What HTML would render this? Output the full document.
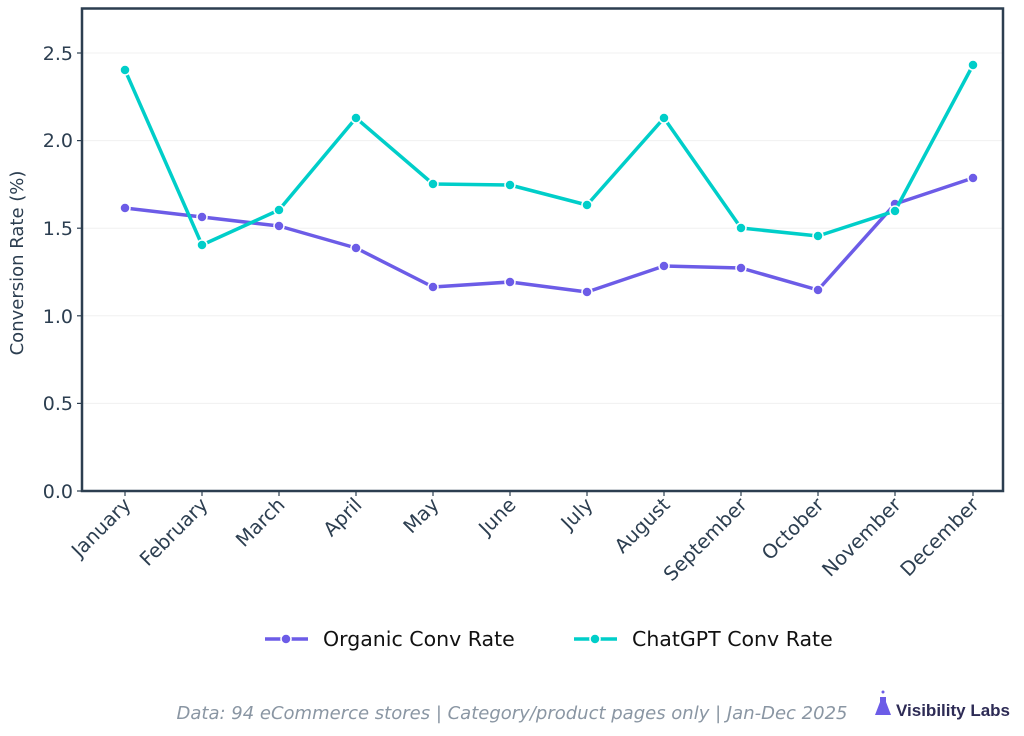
<!DOCTYPE html>
<html><head><meta charset="utf-8"><style>
body{margin:0;background:#fff;}
svg text{font-family:"DejaVu Sans","Liberation Sans",sans-serif;}
</style></head><body>
<svg width="1024" height="731" viewBox="0 0 1024 731" xmlns="http://www.w3.org/2000/svg">
<rect width="1024" height="731" fill="#fff"/>
<g stroke="#f0f0f0" stroke-width="1">
<line x1="82" x2="1003" y1="53" y2="53"/><line x1="82" x2="1003" y1="140.6" y2="140.6"/>
<line x1="82" x2="1003" y1="228.2" y2="228.2"/><line x1="82" x2="1003" y1="315.8" y2="315.8"/>
<line x1="82" x2="1003" y1="403.4" y2="403.4"/>
</g>
<g stroke="#2c3e50" stroke-width="1.2">
<line x1="77" x2="82" y1="53" y2="53"/><line x1="77" x2="82" y1="140.6" y2="140.6"/>
<line x1="77" x2="82" y1="228.2" y2="228.2"/><line x1="77" x2="82" y1="315.8" y2="315.8"/>
<line x1="77" x2="82" y1="403.4" y2="403.4"/><line x1="77" x2="82" y1="491" y2="491"/>
<line x1="125" x2="125" y1="491" y2="496"/><line x1="202" x2="202" y1="491" y2="496"/>
<line x1="279" x2="279" y1="491" y2="496"/><line x1="356" x2="356" y1="491" y2="496"/>
<line x1="433" x2="433" y1="491" y2="496"/><line x1="510" x2="510" y1="491" y2="496"/>
<line x1="587" x2="587" y1="491" y2="496"/><line x1="664" x2="664" y1="491" y2="496"/>
<line x1="741" x2="741" y1="491" y2="496"/><line x1="818" x2="818" y1="491" y2="496"/>
<line x1="895" x2="895" y1="491" y2="496"/><line x1="973" x2="973" y1="491" y2="496"/>
</g>
<g fill="#2c3e50" font-size="19" text-anchor="end">
<text x="73" y="60">2.5</text><text x="73" y="147">2.0</text><text x="73" y="235">1.5</text>
<text x="73" y="323">1.0</text><text x="73" y="410">0.5</text><text x="73" y="498">0.0</text>
</g>
<text transform="translate(23,263) rotate(-90)" fill="#2c3e50" font-size="18" text-anchor="middle">Conversion Rate (%)</text>
<g fill="#2c3e50" font-size="19.5" text-anchor="end">
<text transform="translate(132,506) rotate(-45)">January</text>
<text transform="translate(209,506) rotate(-45)">February</text>
<text transform="translate(286,506) rotate(-45)">March</text>
<text transform="translate(363,506) rotate(-45)">April</text>
<text transform="translate(440,506) rotate(-45)">May</text>
<text transform="translate(517,506) rotate(-45)">June</text>
<text transform="translate(594,506) rotate(-45)">July</text>
<text transform="translate(671,506) rotate(-45)">August</text>
<text transform="translate(748,506) rotate(-45)">September</text>
<text transform="translate(825,506) rotate(-45)">October</text>
<text transform="translate(902,506) rotate(-45)">November</text>
<text transform="translate(980,506) rotate(-45)">December</text>
</g>
<polyline fill="none" stroke="#6c5ce7" stroke-width="3.5" stroke-linejoin="round" points="125,208 202,217 279,226 356,248 433,287 510,282 587,292 664,266 741,268 818,290 895,204 973,178"/>
<g fill="#6c5ce7" stroke="#fff" stroke-width="1.5">
<circle cx="125" cy="208" r="5"/><circle cx="202" cy="217" r="5"/><circle cx="279" cy="226" r="5"/><circle cx="356" cy="248" r="5"/><circle cx="433" cy="287" r="5"/><circle cx="510" cy="282" r="5"/><circle cx="587" cy="292" r="5"/><circle cx="664" cy="266" r="5"/><circle cx="741" cy="268" r="5"/><circle cx="818" cy="290" r="5"/><circle cx="895" cy="204" r="5"/><circle cx="973" cy="178" r="5"/>
</g>
<polyline fill="none" stroke="#00cec9" stroke-width="3.5" stroke-linejoin="round" points="125,70 202,245 279,210 356,118 433,184 510,185 587,205 664,118 741,228 818,236 895,211 973,65"/>
<g fill="#00cec9" stroke="#fff" stroke-width="1.5">
<circle cx="125" cy="70" r="5"/><circle cx="202" cy="245" r="5"/><circle cx="279" cy="210" r="5"/><circle cx="356" cy="118" r="5"/><circle cx="433" cy="184" r="5"/><circle cx="510" cy="185" r="5"/><circle cx="587" cy="205" r="5"/><circle cx="664" cy="118" r="5"/><circle cx="741" cy="228" r="5"/><circle cx="818" cy="236" r="5"/><circle cx="895" cy="211" r="5"/><circle cx="973" cy="65" r="5"/>
</g>
<rect x="82" y="8.5" width="921" height="482.5" fill="none" stroke="#2c3e50" stroke-width="2.5"/>
<line x1="265" x2="308" y1="639" y2="639" stroke="#6c5ce7" stroke-width="3.5"/>
<circle cx="286" cy="639" r="5" fill="#6c5ce7" stroke="#fff" stroke-width="1.5"/>
<text x="323" y="646" font-size="20.5" fill="#111">Organic Conv Rate</text>
<line x1="574" x2="617" y1="639" y2="639" stroke="#00cec9" stroke-width="3.5"/>
<circle cx="595" cy="639" r="5" fill="#00cec9" stroke="#fff" stroke-width="1.5"/>
<text x="632" y="646" font-size="20.5" fill="#111">ChatGPT Conv Rate</text>
<text x="512" y="719" font-size="18" fill="#8a96a3" font-style="italic" text-anchor="middle">Data: 94 eCommerce stores | Category/product pages only | Jan-Dec 2025</text>
<circle cx="883" cy="692" r="1.5" fill="#6c5ce7"/>
<path d="M880,697 h6 v5 l5,13 h-16 l5,-13 z" fill="#6c5ce7"/>
<text x="896" y="716" font-size="17" font-weight="bold" fill="#2d2b55" style="font-family:'Liberation Sans',sans-serif">Visibility Labs</text>
</svg>
</body></html>
